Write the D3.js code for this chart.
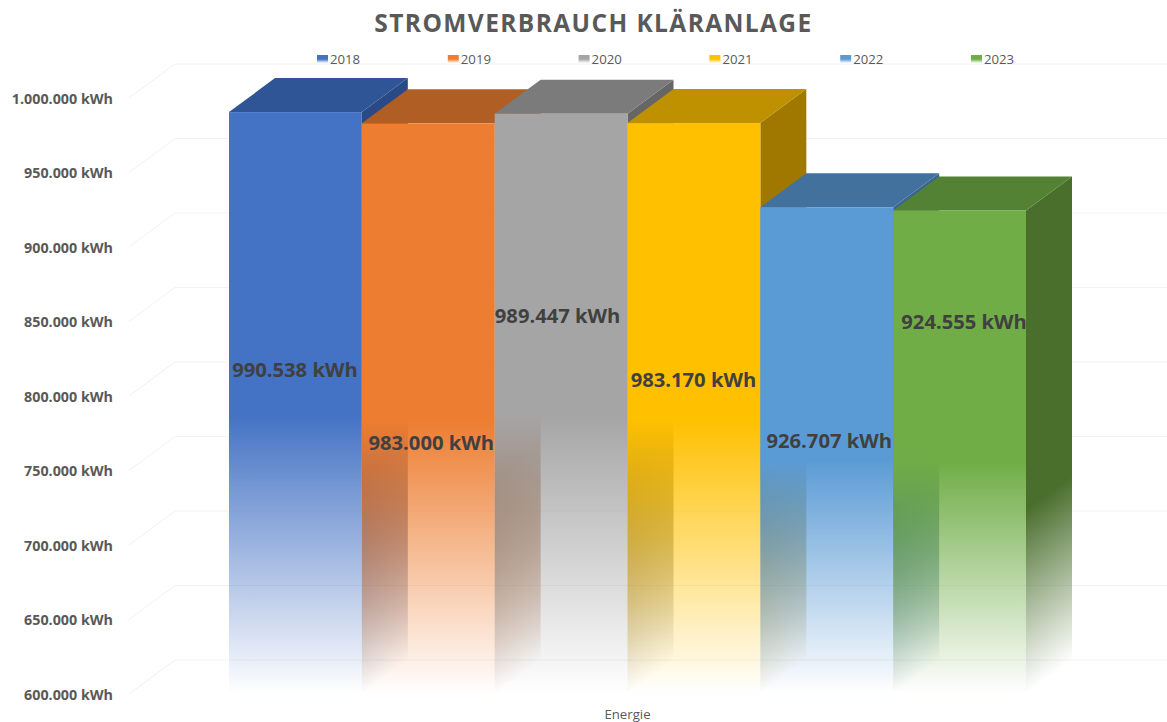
<!DOCTYPE html>
<html>
<head>
<meta charset="utf-8">
<script src="https://cdn.jsdelivr.net/npm/d3@7"></script>
<style>
    html, body { margin: 0; padding: 0; background: #fff; }
    svg { display: block; }
</style>
</head>
<body>
<div id="container"></div>
<script>
const years = ["2018", "2019", "2020", "2021", "2022", "2023"]
const values = [990538, 983000, 989447, 983170, 926707, 924555]
const categoryLabel = ["Energie"]
const tickValues = [600000, 650000, 700000, 750000, 800000, 850000, 900000, 950000, 1000000]
// the data labels sit at hand placed heights in the original, given here in kWh
const labelLevels = [817500, 768500, 853500, 810500, 770000, 850000]

const frontColors = ["#4472c4", "#ed7d31", "#a5a5a5", "#ffc000", "#5b9bd5", "#70ad47"]
const topColors = ["#2f5597", "#b05e24", "#7b7b7b", "#bf9000", "#41719c", "#548235"]
const sideColors = ["#2a4a86", "#9c5220", "#666666", "#a07800", "#3a6690", "#4a6f2d"]

const width = 1167
const height = 722
const depthX = 46
const depthY = 34
const labelShift = [-0.5, 3, -3.5, -0.5, 2.5, 4.5]

const svg = d3.select("#container").append("svg")
    .attr("width", width)
    .attr("height", height)
    .style("font-family", "'Open Sans', sans-serif")

const x = d3.scaleBand().domain(years).range([229, 1026])
const y = d3.scaleLinear().domain([600000, 1000000]).range([694, 98])

const de = d3.formatLocale({ decimal: ",", thousands: ".", grouping: [3], currency: ["", ""] })
const kwh = v => de.format(",d")(v) + " kWh"

const defs = svg.append("defs")

function fade(id, color, solidUntil) {
    const g = defs.append("linearGradient")
        .attr("id", id)
        .attr("x1", 0).attr("y1", 0)
        .attr("x2", 0).attr("y2", 1)
    g.append("stop").attr("offset", 0).attr("stop-color", color)
    g.append("stop").attr("offset", solidUntil).attr("stop-color", color)
    g.append("stop").attr("offset", 1).attr("stop-color", color).attr("stop-opacity", 0)
}

years.forEach((d, i) => {
    fade("front" + i, frontColors[i], 0.52)
    fade("side" + i, sideColors[i], 0.62)
})

// back wall gridlines and the slanted ticks
const grid = svg.append("g")
grid.selectAll("line.wall")
    .data(tickValues)
    .enter().append("line")
    .attr("class", "wall")
    .attr("x1", 129 + depthX)
    .attr("x2", width)
    .attr("y1", d => y(d) - depthY)
    .attr("y2", d => y(d) - depthY)
    .attr("stroke", "#f2f2f2")
grid.selectAll("line.slant")
    .data(tickValues)
    .enter().append("line")
    .attr("class", "slant")
    .attr("x1", 129)
    .attr("x2", 129 + depthX)
    .attr("y1", d => y(d))
    .attr("y2", d => y(d) - depthY)
    .attr("stroke", "#f2f2f2")

const yAxis = svg.append("g")
    .attr("transform", "translate(129,0.5)")
    .call(d3.axisLeft(y).tickValues(tickValues).tickSize(0).tickPadding(16).tickFormat(kwh))
yAxis.select(".domain").remove()
yAxis.selectAll("text")
    .attr("fill", "#595959")
    .style("font-family", "'Open Sans', sans-serif")
    .style("font-size", "14.3px")
    .style("font-weight", 700)

const xCat = d3.scaleBand().domain(categoryLabel).range(x.range())
const xAxis = svg.append("g")
    .attr("transform", "translate(0,707)")
    .call(d3.axisBottom(xCat).tickSize(0).tickPadding(3))
xAxis.select(".domain").remove()
xAxis.selectAll("text")
    .attr("fill", "#595959")
    .style("font-family", "'Open Sans', sans-serif")
    .style("font-size", "13.2px")

// left to right, so each bar lies over the side of the one before it
const bar = svg.selectAll("g.bar")
    .data(years)
    .enter().append("g")
    .attr("class", "bar")

bar.append("rect")
    .attr("transform", (d, i) => `matrix(1,${-depthY / depthX},0,1,${x(d) + x.bandwidth()},${y(values[i])})`)
    .attr("width", depthX)
    .attr("height", (d, i) => y(600000) - y(values[i]))
    .attr("fill", (d, i) => `url(#side${i})`)

bar.append("path")
    .attr("d", (d, i) => {
        const x0 = x(d)
        const x1 = x0 + x.bandwidth()
        const top = y(values[i])
        return `M${x0},${top}L${x1},${top}L${x1 + depthX},${top - depthY}L${x0 + depthX},${top - depthY}Z`
    })
    .attr("fill", (d, i) => topColors[i])

bar.append("rect")
    .attr("x", d => x(d))
    .attr("y", (d, i) => y(values[i]))
    .attr("width", x.bandwidth())
    .attr("height", (d, i) => y(600000) - y(values[i]))
    .attr("fill", (d, i) => `url(#front${i})`)

svg.append("g").selectAll("text")
    .data(years)
    .enter().append("text")
    .attr("x", (d, i) => x(d) + x.bandwidth() / 2 + labelShift[i])
    .attr("y", (d, i) => y(labelLevels[i]))
    .attr("dy", "0.35em")
    .attr("text-anchor", "middle")
    .attr("fill", "#404040")
    .style("font-size", "20.2px")
    .style("font-weight", 700)
    .text((d, i) => kwh(values[i]))

const legendX = d3.scalePoint().domain(years).range([317, 971])
const legend = svg.append("g").selectAll("g")
    .data(years)
    .enter().append("g")
    .attr("transform", d => `translate(${legendX(d)},55)`)
legend.append("rect")
    .attr("width", 11)
    .attr("height", 8)
    .attr("fill", (d, i) => `url(#front${i})`)
legend.append("text")
    .attr("x", 13)
    .attr("y", 4)
    .attr("dy", "0.35em")
    .attr("fill", "#595959")
    .style("font-size", "13.2px")
    .text(d => d)

svg.append("text")
    .attr("x", 593.5)
    .attr("y", 32)
    .attr("text-anchor", "middle")
    .attr("fill", "#595959")
    .style("font-size", "24.5px")
    .style("font-weight", 700)
    .style("letter-spacing", "1.4px")
    .text("STROMVERBRAUCH KLÄRANLAGE")
</script>
</body>
</html>
